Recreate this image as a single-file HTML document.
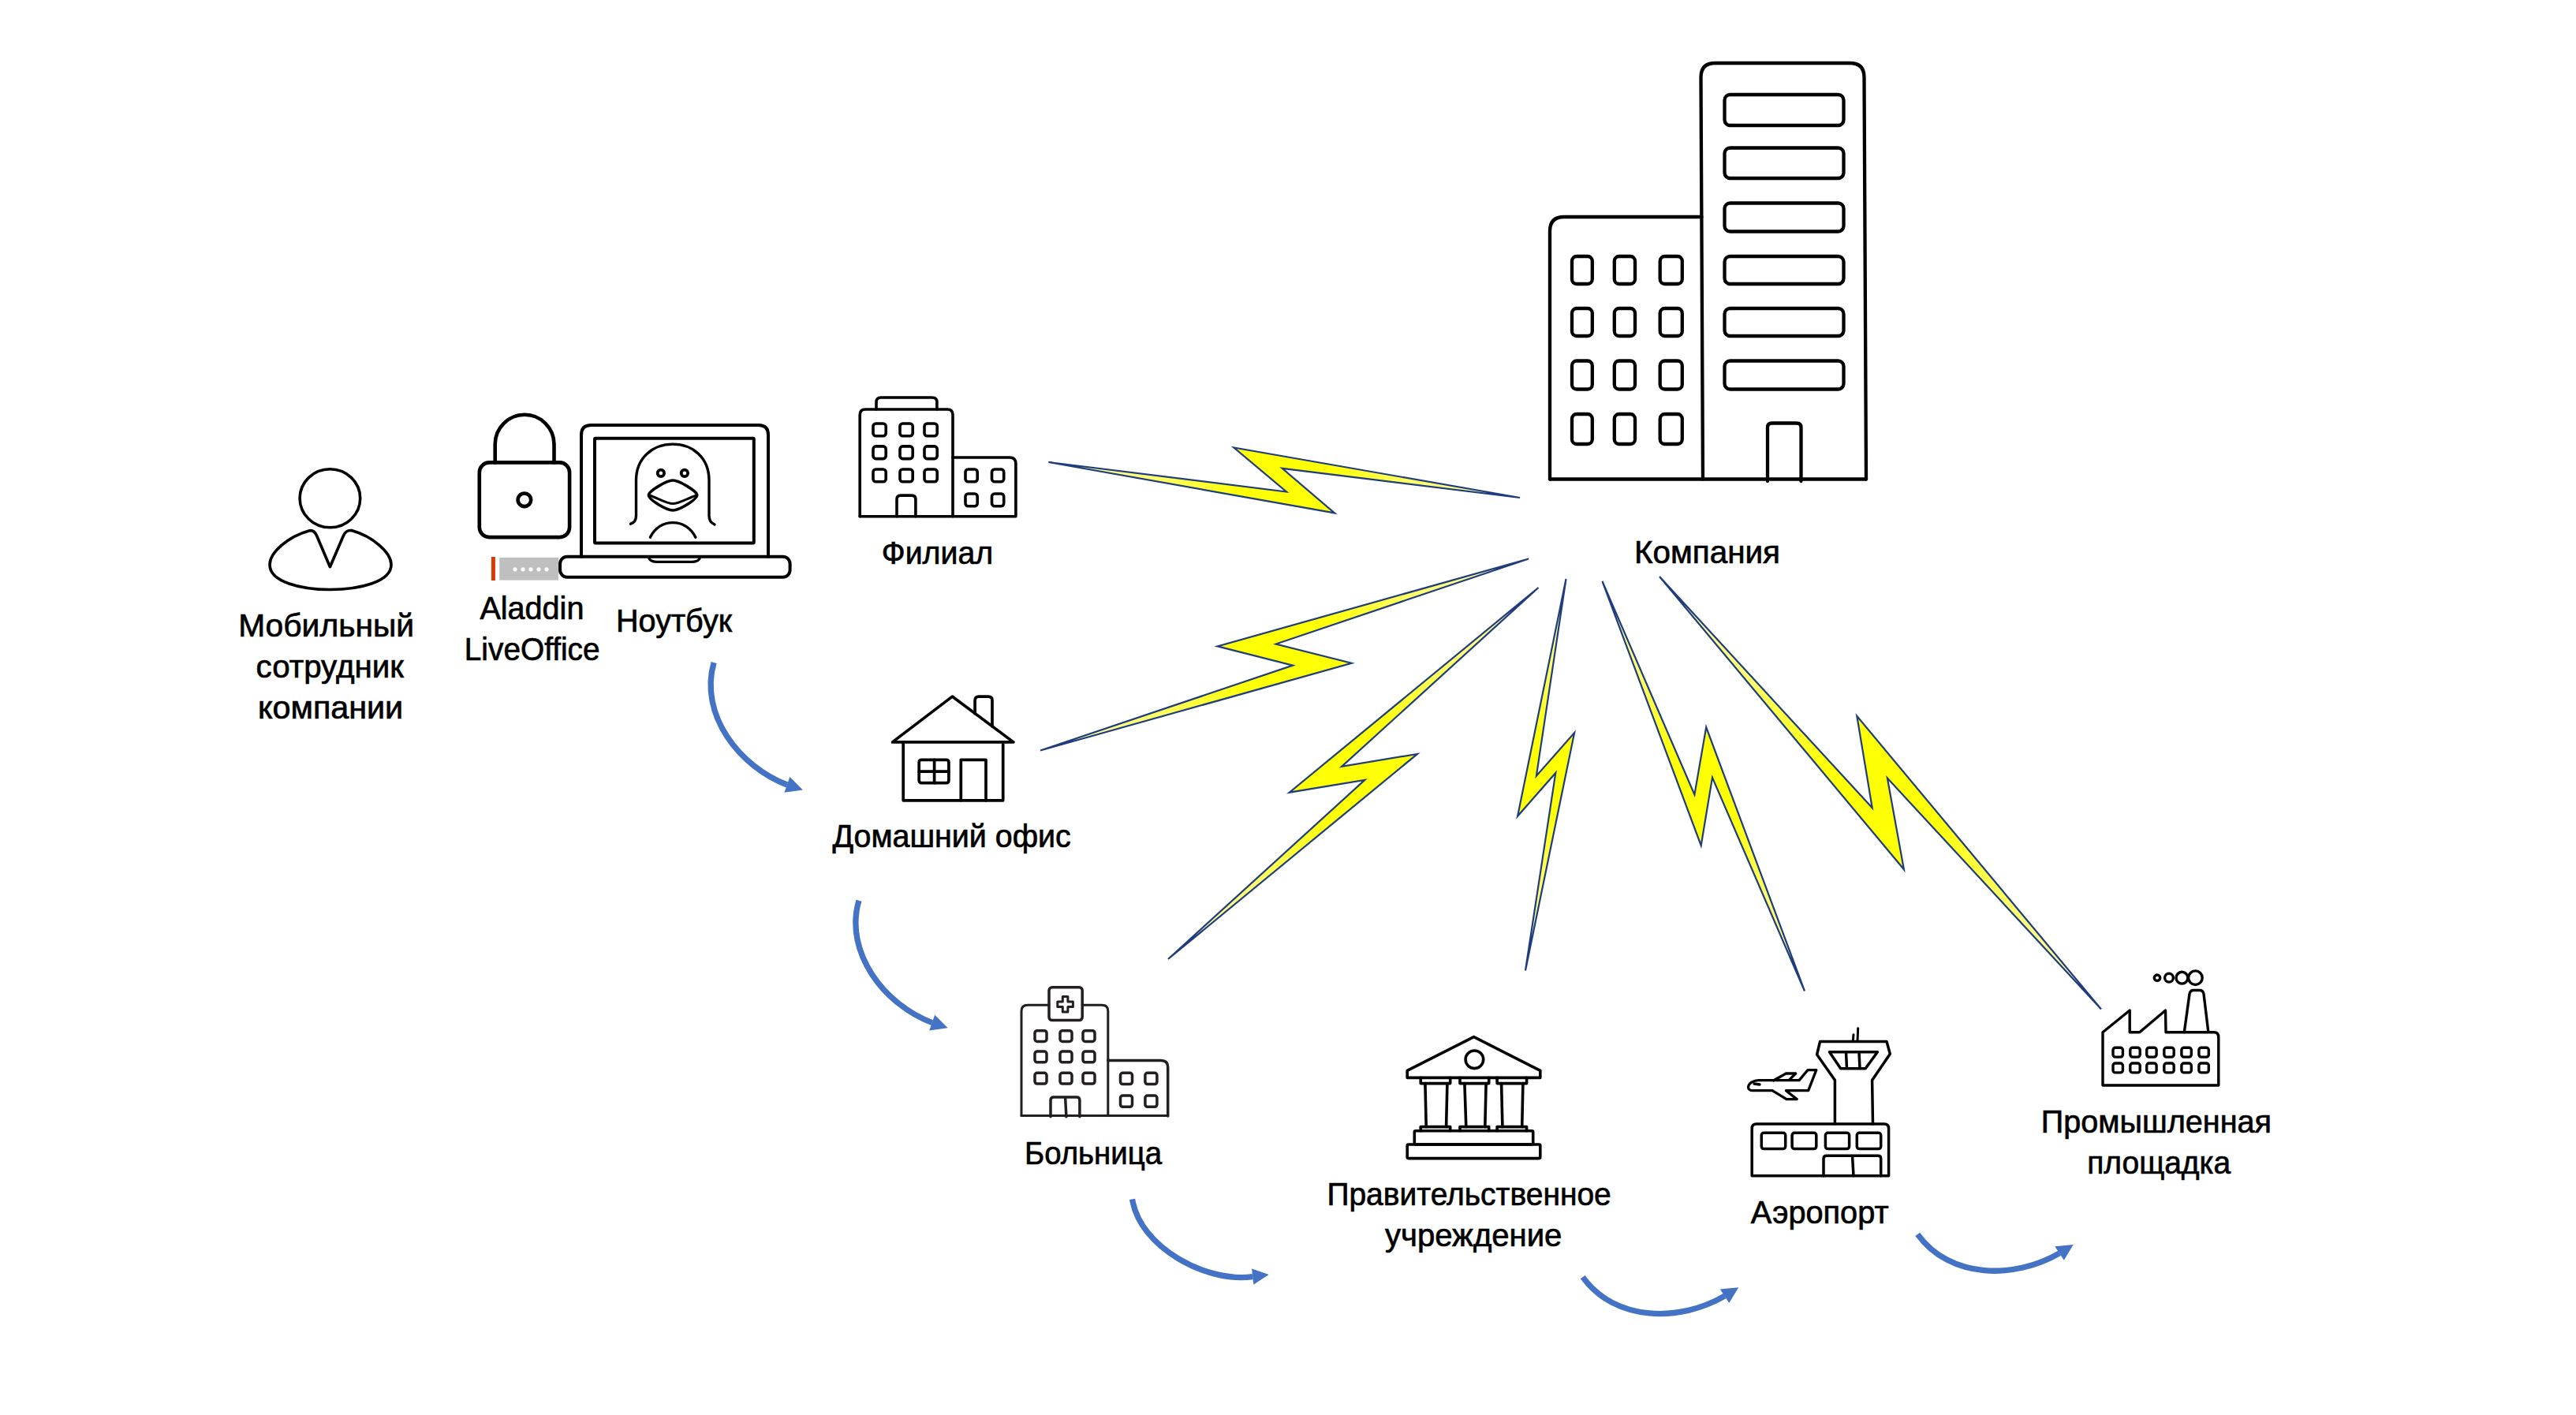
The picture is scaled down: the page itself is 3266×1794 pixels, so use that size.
<!DOCTYPE html>
<html><head><meta charset="utf-8"><title>Diagram</title>
<style>html,body{margin:0;padding:0;background:#fff;width:3266px;height:1794px;overflow:hidden;font-family:"Liberation Sans",sans-serif;}</style>
</head><body>
<svg width="3266" height="1794" viewBox="0 0 3266 1794" style="position:absolute;left:0;top:0" font-family="Liberation Sans, sans-serif" font-size="40.7" fill="#000"><defs><radialGradient id="g0" gradientUnits="userSpaceOnUse" cx="1628.3" cy="608.8" r="299.6"><stop offset="0" stop-color="#FFFF00"/><stop offset="0.2" stop-color="#FFFF08"/><stop offset="0.55" stop-color="#FFFF6A"/><stop offset="1" stop-color="#FFFFC0"/></radialGradient><radialGradient id="g1" gradientUnits="userSpaceOnUse" cx="1628.5" cy="830.1" r="332.5"><stop offset="0" stop-color="#FFFF00"/><stop offset="0.2" stop-color="#FFFF08"/><stop offset="0.55" stop-color="#FFFF6A"/><stop offset="1" stop-color="#FFFFC0"/></radialGradient><radialGradient id="g2" gradientUnits="userSpaceOnUse" cx="1715.8" cy="980.4" r="332.7"><stop offset="0" stop-color="#FFFF00"/><stop offset="0.2" stop-color="#FFFF08"/><stop offset="0.55" stop-color="#FFFF6A"/><stop offset="1" stop-color="#FFFFC0"/></radialGradient><radialGradient id="g3" gradientUnits="userSpaceOnUse" cx="1960.1" cy="981.9" r="250.0"><stop offset="0" stop-color="#FFFF00"/><stop offset="0.2" stop-color="#FFFF08"/><stop offset="0.55" stop-color="#FFFF6A"/><stop offset="1" stop-color="#FFFFC0"/></radialGradient><radialGradient id="g4" gradientUnits="userSpaceOnUse" cx="2159.8" cy="996.8" r="289.8"><stop offset="0" stop-color="#FFFF00"/><stop offset="0.2" stop-color="#FFFF08"/><stop offset="0.55" stop-color="#FFFF6A"/><stop offset="1" stop-color="#FFFFC0"/></radialGradient><radialGradient id="g5" gradientUnits="userSpaceOnUse" cx="2383.7" cy="1005.2" r="392.2"><stop offset="0" stop-color="#FFFF00"/><stop offset="0.2" stop-color="#FFFF08"/><stop offset="0.55" stop-color="#FFFF6A"/><stop offset="1" stop-color="#FFFFC0"/></radialGradient></defs><polygon points="1329.5,586.0 1631.0,623.5 1564.4,567.5 1927.0,631.0 1625.7,593.9 1692.0,650.4" fill="url(#g0)" stroke="#1F3D7C" stroke-width="2.2" stroke-linejoin="miter" stroke-miterlimit="8"/>
<polygon points="1938.0,708.5 1543.6,819.4 1639.1,843.6 1319.0,951.5 1713.6,840.8 1617.7,816.5" fill="url(#g1)" stroke="#1F3D7C" stroke-width="2.2" stroke-linejoin="miter" stroke-miterlimit="8"/>
<polygon points="1950.5,745.0 1634.8,1004.7 1730.3,988.9 1481.0,1216.0 1797.0,955.9 1701.1,971.9" fill="url(#g2)" stroke="#1F3D7C" stroke-width="2.2" stroke-linejoin="miter" stroke-miterlimit="8"/>
<polygon points="1985.5,734.0 1924.1,1034.8 1972.3,979.9 1934.0,1230.5 1996.1,929.1 1947.9,983.7" fill="url(#g3)" stroke="#1F3D7C" stroke-width="2.2" stroke-linejoin="miter" stroke-miterlimit="8"/>
<polygon points="2031.5,737.0 2148.4,1007.5 2163.2,922.0 2288.0,1256.5 2171.0,985.8 2156.7,1072.0" fill="url(#g4)" stroke="#1F3D7C" stroke-width="2.2" stroke-linejoin="miter" stroke-miterlimit="8"/>
<polygon points="2104.0,731.0 2373.7,1024.2 2354.3,907.8 2664.0,1279.5 2392.9,986.6 2413.9,1102.3" fill="url(#g5)" stroke="#1F3D7C" stroke-width="2.2" stroke-linejoin="miter" stroke-miterlimit="8"/>
<path d="M905.1,840.0 C886.0,906.6 938.2,972.3 998.0,995.0" fill="none" stroke="#4472C4" stroke-width="7.3"/>
<polygon points="1017.9,1001.6 1001.4,985.1 994.4,1004.7" fill="#4472C4"/>
<path d="M1088.9,1141.7 C1069.8,1208.3 1122.0,1274.0 1181.8,1296.7" fill="none" stroke="#4472C4" stroke-width="7.3"/>
<polygon points="1201.7,1303.3 1185.2,1286.8 1178.2,1306.4" fill="#4472C4"/>
<path d="M1435.6,1520.4 C1444.9,1581.7 1530.4,1626.8 1588.2,1618.6" fill="none" stroke="#4472C4" stroke-width="7.3"/>
<polygon points="1608.7,1616.0 1587.1,1608.5 1589.3,1628.8" fill="#4472C4"/>
<path d="M2006.7,1619.1 C2048.0,1676.3 2130.2,1676.1 2186.6,1643.2" fill="none" stroke="#4472C4" stroke-width="7.3"/>
<polygon points="2204.2,1632.2 2180.8,1634.5 2192.3,1652.0" fill="#4472C4"/>
<path d="M2431.2,1564.8 C2472.5,1622.0 2554.7,1621.8 2611.1,1588.9" fill="none" stroke="#4472C4" stroke-width="7.3"/>
<polygon points="2628.7,1577.9 2605.3,1580.2 2616.8,1597.7" fill="#4472C4"/>
<g fill="none" stroke="#000" stroke-width="3.6" stroke-linecap="round" stroke-linejoin="round"><ellipse cx="418.4" cy="631.8" rx="38.3" ry="37"/><path d="M391.7,672.9 Q398,671.5 401.5,679 L418.4,718.7 L435.5,679 Q439,671.5 445.8,672.6 C472,680 496,700 496,716 C496,738 455,747.5 418.4,747.5 C382,747.5 342,738 342,716 C342,700 366,680 391.7,672.9 Z"/></g>
<g fill="none" stroke="#000" stroke-width="4.6" stroke-linecap="round" stroke-linejoin="round"><path d="M627.7,586.4 L627.7,563.2 A37.4,37.4 0 0 1 702.5,563.2 L702.5,586.4"/><rect x="607.8" y="586.4" width="114.3" height="94.7" rx="12.5"/><circle cx="664.9" cy="633.8" r="8.3"/></g>
<rect x="622.9" y="706" width="5" height="30" fill="#D83B01"/>
<rect x="633.2" y="706.8" width="74.8" height="28.8" fill="#BFBFBF"/>
<circle cx="653" cy="721.8" r="2.6" fill="#fff"/>
<circle cx="663" cy="721.8" r="2.6" fill="#fff"/>
<circle cx="673" cy="721.8" r="2.6" fill="#fff"/>
<circle cx="683" cy="721.8" r="2.6" fill="#fff"/>
<circle cx="693" cy="721.8" r="2.6" fill="#fff"/>
<g fill="none" stroke="#000" stroke-width="4" stroke-linecap="round" stroke-linejoin="round"><path d="M737,705.8 L737,551.4 Q737,539 749.4,539 L961.6,539 Q974,539 974,551.4 L974,705.8"/><rect x="754" y="555.8" width="201.8" height="132.8" rx="1"/><rect x="710.1" y="705.8" width="291.5" height="26" rx="9"/><path d="M822,706 Q824,712.3 832,712.3 L878,712.3 Q886,712.3 888,706" stroke-width="3.2"/></g>
<g fill="none" stroke="#000" stroke-width="3.4" stroke-linecap="round" stroke-linejoin="round"><path d="M799.5,664.2 Q806.5,662 806.5,654 L806.5,609 C806.5,580 828,563.1 853.1,563.1 C878,563.1 899,580 899,609 L899,654 Q899,662 906,665"/><circle cx="837.9" cy="599.9" r="4.2" stroke-width="3.8"/><circle cx="867.9" cy="599.9" r="4.2" stroke-width="3.8"/><path d="M853.1,609 C845,609 824,622 822.5,627 C821,633 845,647 853.1,647 C861,647 885,633 883.7,627 C882,622 861,609 853.1,609 Z" stroke-width="3.6"/><path d="M823.5,628 C835,632 845,638.5 853.1,638.5 C861,638.5 871,632 883,628" stroke-width="3"/><path d="M824.4,681.3 C830,669 841,662.6 853.1,662.6 C865,662.6 876,669 881.9,681.3"/></g>
<g fill="none" stroke="#000" stroke-width="3.6" stroke-linecap="round" stroke-linejoin="round"><path d="M1090.2,654.8 L1090.2,526 Q1090.2,519 1097.2,519 L1201,519 Q1208,519 1208,526 L1208,654.8"/><path d="M1208,580 L1280,580 Q1287.9,580 1287.9,588 L1287.9,654.8 L1090.2,654.8"/><path d="M1111,519 L1111,510 Q1111,504 1117,504 L1182,504 Q1187.9,504 1187.9,510 L1187.9,519"/><path d="M1137,654.8 L1137,633 Q1137,628.1 1142,628.1 L1156,628.1 Q1160.9,628.1 1160.9,633 L1160.9,654.8"/><rect x="1107" y="537" width="16.2" height="15.7" rx="3.5"/><rect x="1107" y="565.9" width="16.2" height="15.7" rx="3.5"/><rect x="1107" y="595" width="16.2" height="15.7" rx="3.5"/><rect x="1141" y="537" width="16.2" height="15.7" rx="3.5"/><rect x="1141" y="565.9" width="16.2" height="15.7" rx="3.5"/><rect x="1141" y="595" width="16.2" height="15.7" rx="3.5"/><rect x="1172" y="537" width="16.2" height="15.7" rx="3.5"/><rect x="1172" y="565.9" width="16.2" height="15.7" rx="3.5"/><rect x="1172" y="595" width="16.2" height="15.7" rx="3.5"/><rect x="1224" y="595" width="15.2" height="15.8" rx="3.5"/><rect x="1224" y="626" width="15.2" height="15.8" rx="3.5"/><rect x="1257.5" y="595" width="15.2" height="15.8" rx="3.5"/><rect x="1257.5" y="626" width="15.2" height="15.8" rx="3.5"/></g>
<g fill="none" stroke="#000" stroke-width="4.3" stroke-linecap="round" stroke-linejoin="round"><path d="M1965,607.5 L1965,293 Q1965,275 1983,275 L2157.5,275"/><path d="M2159,607.5 L2156.5,98 Q2156.5,80 2174.5,80 L2345.5,80 Q2363.5,80 2363.5,98 L2366,607.5"/><path d="M1965,607.5 L2366,607.5"/><path d="M2241,610 L2241,542 Q2241,536.5 2246.5,536.5 L2278,536.5 Q2283.5,536.5 2283.5,542 L2283.5,610"/><rect x="1993" y="325" width="25.8" height="35" rx="6"/><rect x="1993" y="391" width="25.8" height="35" rx="6"/><rect x="1993" y="457.5" width="25.8" height="36" rx="6"/><rect x="1993" y="525" width="25.8" height="38" rx="6"/><rect x="2046.8" y="325" width="26.2" height="35" rx="6"/><rect x="2046.8" y="391" width="26.2" height="35" rx="6"/><rect x="2046.8" y="457.5" width="26.2" height="36" rx="6"/><rect x="2046.8" y="525" width="26.2" height="38" rx="6"/><rect x="2104.7" y="325" width="28.1" height="35" rx="6"/><rect x="2104.7" y="391" width="28.1" height="35" rx="6"/><rect x="2104.7" y="457.5" width="28.1" height="36" rx="6"/><rect x="2104.7" y="525" width="28.1" height="38" rx="6"/><rect x="2186.5" y="120" width="151" height="39" rx="7"/><rect x="2186.5" y="187.5" width="151" height="38.5" rx="7"/><rect x="2186.5" y="257.5" width="151" height="36" rx="7"/><rect x="2186.5" y="325" width="151" height="35" rx="7"/><rect x="2186.5" y="391" width="151" height="35" rx="7"/><rect x="2186.5" y="457.5" width="151" height="36" rx="7"/></g>
<g fill="none" stroke="#000" stroke-width="3.7" stroke-linecap="round" stroke-linejoin="round"><path d="M1131.5,940.9 L1207.3,883.1 L1284.9,940.9 Z"/><path d="M1236.1,904.6 L1236.1,888 Q1236.1,883.1 1241,883.1 L1253,883.1 Q1258,883.1 1258,888 L1258,921"/><path d="M1145.2,940.9 L1145.2,1014.8 L1271.7,1014.8 L1271.7,940.9"/><rect x="1165.2" y="963.3" width="37.7" height="29.4" rx="3"/><path d="M1184.6,963.3 L1184.6,992.7 M1165.2,978.2 L1202.9,978.2"/><path d="M1218.3,1014.8 L1218.3,963.3 L1250,963.3 L1250,1014.8"/></g>
<g fill="none" stroke="#231F20" stroke-width="3.5" stroke-linecap="round" stroke-linejoin="round"><path d="M1295,1414.5 L1295,1282 Q1295,1274.2 1303,1274.2 L1330,1274.2 M1372.2,1274.2 L1397,1274.2 Q1404.8,1274.2 1404.8,1282 L1404.8,1414.5" stroke-width="3"/><path d="M1295,1414.5 L1480.7,1414.5" stroke-width="3"/><path d="M1404.8,1344.6 L1472,1344.6 Q1480.7,1344.6 1480.7,1353 L1480.7,1415" /><rect x="1330" y="1251.8" width="42.2" height="41.8" rx="4"/><path d="M1347.3,1263.5 L1353.9,1263.5 L1353.9,1270 L1360.4,1270 L1360.4,1276.6 L1353.9,1276.6 L1353.9,1283.1 L1347.3,1283.1 L1347.3,1276.6 L1340.8,1276.6 L1340.8,1270 L1347.3,1270 Z" stroke-width="3"/><path d="M1332,1415.8 L1332,1395 Q1332,1391 1336,1391 L1365,1391 Q1368.9,1391 1368.9,1395 L1368.9,1415.8 M1350.6,1391 L1351.9,1415.8"/><rect x="1312" y="1306.7" width="15" height="13.8" rx="3"/><rect x="1312" y="1333" width="15" height="13.8" rx="3"/><rect x="1312" y="1360.3" width="15" height="13.8" rx="3"/><rect x="1344" y="1306.7" width="15" height="13.8" rx="3"/><rect x="1344" y="1333" width="15" height="13.8" rx="3"/><rect x="1344" y="1360.3" width="15" height="13.8" rx="3"/><rect x="1373" y="1306.7" width="15" height="13.8" rx="3"/><rect x="1373" y="1333" width="15" height="13.8" rx="3"/><rect x="1373" y="1360.3" width="15" height="13.8" rx="3"/><rect x="1420.5" y="1360.3" width="15" height="14.3" rx="3"/><rect x="1420.5" y="1389" width="15" height="14.3" rx="3"/><rect x="1451.9" y="1360.3" width="15" height="14.3" rx="3"/><rect x="1451.9" y="1389" width="15" height="14.3" rx="3"/></g>
<g fill="none" stroke="#000" stroke-width="3.6" stroke-linecap="round" stroke-linejoin="round"><path d="M1784.2,1357.3 L1868.6,1314.6 L1952.8,1357.3 L1952.8,1366.4 L1784.2,1366.4 Z"/><circle cx="1869.4" cy="1343.3" r="11.3"/><path d="M1801.2,1366.4 L1801.2,1373.6 L1838.7,1373.6 L1838.7,1366.4"/><path d="M1801.2,1433.8 L1801.2,1428.6 L1838.7,1428.6 L1838.7,1433.8"/><path d="M1851,1366.4 L1851,1373.6 L1887.7,1373.6 L1887.7,1366.4"/><path d="M1851,1433.8 L1851,1428.6 L1887.7,1428.6 L1887.7,1433.8"/><path d="M1898.1,1366.4 L1898.1,1373.6 L1935.6,1373.6 L1935.6,1366.4"/><path d="M1898.1,1433.8 L1898.1,1428.6 L1935.6,1428.6 L1935.6,1433.8"/><path d="M1806.9,1373.6 L1808.2,1428.6 M1834.9,1373.6 L1833.6,1428.6"/><path d="M1856.9,1373.6 L1858.8,1428.6 M1884.1,1373.6 L1882.8,1428.6"/><path d="M1903.6,1373.6 L1904.9,1428.6 M1930.9,1373.6 L1929.7,1428.6"/><rect x="1793.3" y="1433.8" width="150.4" height="17.2" rx="1.5"/><rect x="1784.2" y="1451" width="168.6" height="17.6" rx="1.5"/></g>
<g fill="none" stroke="#000" stroke-width="3.5" stroke-linecap="round" stroke-linejoin="round"><path d="M2221.2,1490.7 L2221.2,1431 Q2221.2,1425.1 2227,1425.1 L2389,1425.1 Q2394.6,1425.1 2394.6,1431 L2394.6,1490.7 Z"/><path d="M2312,1490.7 L2312,1469 Q2312,1465.3 2316,1465.3 L2381,1465.3 Q2384.7,1465.3 2384.7,1469 L2384.7,1490.7 M2348.5,1465.3 L2350,1490.7"/><path d="M2326.4,1425.1 L2326.4,1369.6 L2303.6,1337 L2307.6,1320.4 L2392,1320.4 L2396.3,1336.3 L2373.6,1369.6 L2374.5,1425.1"/><path d="M2319.5,1333.8 L2380.4,1333.8 L2365.1,1354.7 L2333.7,1354.7 Z M2340.5,1333.8 L2341.5,1354.7 M2357,1333.8 L2358,1354.7"/><path d="M2355.7,1303.7 L2355,1320 M2350,1311.7 L2349.3,1320" stroke-width="3"/><path d="M2216.6,1378.3 C2217,1373 2224,1369.6 2229.6,1369.6 L2281.1,1369.6 L2292,1356.6 L2302.8,1356.6 L2292.7,1382.7 L2264.4,1382.7 L2278.2,1393.6 L2265.1,1393.6 L2247,1382.7 L2222,1382.7 C2219,1382.7 2216.3,1381 2216.6,1378.3 Z M2248.5,1370 L2264.4,1361 L2276.7,1361 L2268,1369.6 M2224,1374 L2231,1375" stroke-width="3.3"/><rect x="2233.3" y="1436.3" width="30.4" height="20.3" rx="3"/><rect x="2272.1" y="1436.3" width="30.7" height="20.3" rx="3"/><rect x="2314.4" y="1436.3" width="30.2" height="20.3" rx="3"/><rect x="2354.3" y="1436.3" width="30.4" height="20.3" rx="3"/></g>
<g fill="none" stroke="#000" stroke-width="3.4" stroke-linecap="round" stroke-linejoin="round"><path d="M2666,1376 L2666,1308.7 L2700.2,1281 L2700.2,1308.7 L2712.7,1308.7 L2745.5,1281 L2746,1308.7 L2807,1308.7 Q2812.8,1308.7 2812.8,1315 L2812.8,1376 Z"/><path d="M2769.3,1308.7 L2776,1260 Q2777,1255.5 2781,1255.5 L2789,1255.5 Q2793,1255.5 2794,1260 L2799.8,1308.1"/><circle cx="2735" cy="1239.7" r="3.7"/><circle cx="2750" cy="1239.7" r="5.4"/><circle cx="2766.4" cy="1239.7" r="7.4"/><circle cx="2783.4" cy="1239.7" r="8.8"/><rect x="2679" y="1328.2" width="12.4" height="11.9" rx="3"/><rect x="2679" y="1348" width="12.4" height="11.9" rx="3"/><rect x="2700.8" y="1328.2" width="12.4" height="11.9" rx="3"/><rect x="2700.8" y="1348" width="12.4" height="11.9" rx="3"/><rect x="2721.7" y="1328.2" width="12.4" height="11.9" rx="3"/><rect x="2721.7" y="1348" width="12.4" height="11.9" rx="3"/><rect x="2743.8" y="1328.2" width="12.4" height="11.9" rx="3"/><rect x="2743.8" y="1348" width="12.4" height="11.9" rx="3"/><rect x="2765.9" y="1328.2" width="12.4" height="11.9" rx="3"/><rect x="2765.9" y="1348" width="12.4" height="11.9" rx="3"/><rect x="2787.9" y="1328.2" width="12.4" height="11.9" rx="3"/><rect x="2787.9" y="1348" width="12.4" height="11.9" rx="3"/></g>
<text x="302.2" y="806.7" textLength="222.8" lengthAdjust="spacingAndGlyphs" stroke="#000" stroke-width="0.7">Мобильный</text>
<text x="324.6" y="859" textLength="187.2" lengthAdjust="spacingAndGlyphs" stroke="#000" stroke-width="0.7">сотрудник</text>
<text x="327.0" y="911" textLength="184.2" lengthAdjust="spacingAndGlyphs" stroke="#000" stroke-width="0.7">компании</text>
<text x="608.4" y="784.8" textLength="132.0" lengthAdjust="spacingAndGlyphs" stroke="#000" stroke-width="0.7">Aladdin</text>
<text x="588.8" y="836.5" textLength="171.8" lengthAdjust="spacingAndGlyphs" stroke="#000" stroke-width="0.7">LiveOffice</text>
<text x="781.0" y="800.9" textLength="147.0" lengthAdjust="spacingAndGlyphs" stroke="#000" stroke-width="0.7">Ноутбук</text>
<text x="1117.8" y="714.7" textLength="141.4" lengthAdjust="spacingAndGlyphs" stroke="#000" stroke-width="0.7">Филиал</text>
<text x="2072.0" y="714" textLength="185.0" lengthAdjust="spacingAndGlyphs" stroke="#000" stroke-width="0.7">Компания</text>
<text x="1055.4" y="1073.6" textLength="302.4" lengthAdjust="spacingAndGlyphs" stroke="#000" stroke-width="0.7">Домашний офис</text>
<text x="1299.0" y="1475.9" textLength="174.0" lengthAdjust="spacingAndGlyphs" stroke="#000" stroke-width="0.7">Больница</text>
<text x="1682.4" y="1527.9" textLength="360.4" lengthAdjust="spacingAndGlyphs" stroke="#000" stroke-width="0.7">Правительственное</text>
<text x="1756.0" y="1580.1" textLength="224.4" lengthAdjust="spacingAndGlyphs" stroke="#000" stroke-width="0.7">учреждение</text>
<text x="2219.8" y="1550.9" textLength="174.8" lengthAdjust="spacingAndGlyphs" stroke="#000" stroke-width="0.7">Аэропорт</text>
<text x="2587.8" y="1436" textLength="292.2" lengthAdjust="spacingAndGlyphs" stroke="#000" stroke-width="0.7">Промышленная</text>
<text x="2646.2" y="1487.9" textLength="182.0" lengthAdjust="spacingAndGlyphs" stroke="#000" stroke-width="0.7">площадка</text></svg>
</body></html>
